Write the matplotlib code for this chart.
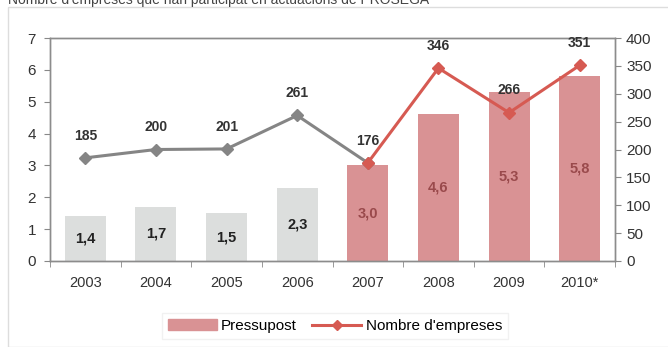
import numpy as np
import matplotlib.pyplot as plt
from matplotlib.patches import Rectangle
from matplotlib.lines import Line2D

plt.rcParams['font.family'] = ['Liberation Sans', 'DejaVu Sans']

years = ["2003", "2004", "2005", "2006", "2007", "2008", "2009", "2010*"]
budget = [1.4, 1.7, 1.5, 2.3, 3.0, 4.6, 5.3, 5.8]
budget_labels = ["1,4", "1,7", "1,5", "2,3", "3,0", "4,6", "5,3", "5,8"]
companies = [185, 200, 201, 261, 176, 346, 266, 351]

# first 4 years drawn in grey, rest in red
n_grey = 4

grey_bar = "#dcdedd"
red_bar = "#d99294"
grey_line = "#858585"
red_line = "#d65a52"
txt = "#333333"

fig = plt.figure(figsize=(6.68, 3.47), dpi=100)
ax = fig.add_axes([50/668, 1-261/347, 565/668, 223/347])
ax2 = ax.twinx()

x = np.arange(len(years))
colors = [grey_bar if i < n_grey else red_bar for i in x]
ax.bar(x, budget, width=0.58, color=colors, zorder=1)

for i, (v, lab) in enumerate(zip(budget, budget_labels)):
    c = "#222222" if i < n_grey else "#9a4a4c"
    ax.text(i, v / 2, lab, ha='center', va='center', fontsize=10.5,
            fontweight='bold', color=c, zorder=3)

ax.set_xlim(-0.5, 7.5)
ax.set_ylim(0, 7)
ax.set_yticks(range(0, 8))
ax.set_xticks(x)
ax.set_xticklabels(years)
ax.set_xticks(np.arange(-0.5, 8, 1), minor=True)
ax.tick_params(axis='x', which='major', length=0, pad=11, labelsize=10.5, labelcolor=txt)
ax.tick_params(axis='x', which='minor', length=4, color="#888888", direction='out')
ax.tick_params(axis='y', length=4, color="#888888", labelsize=11, labelcolor=txt, pad=6)

ax2.set_ylim(0, 400)
ax2.set_yticks(range(0, 401, 50))
ax2.tick_params(axis='y', length=4, color="#888888", labelsize=11, labelcolor=txt, pad=4)

ax2.plot(x[:n_grey + 1], companies[:n_grey + 1], color=grey_line, lw=2.2,
         marker='D', ms=6, zorder=4)
ax2.plot(x[n_grey:], companies[n_grey:], color=red_line, lw=2.2,
         marker='D', ms=6, zorder=5)
for i, v in enumerate(companies):
    ax2.annotate(str(v), (i, v), xytext=(0, 11), textcoords='offset points',
                 ha='center', va='bottom', fontsize=10, fontweight='bold', color=txt)

for a in (ax, ax2):
    for s in a.spines.values():
        s.set_color("#8c8c8c")
        s.set_linewidth(1.0)

# outer frame and cut-off heading
fig.patches.append(Rectangle((8/668, 0), 1, 1 - 7/347, transform=fig.transFigure,
                             fill=False, edgecolor="#dddddd", lw=1.0))
fig.text(8/668, 1.0, "Nombre d'empreses que han participat en actuacions de PROSEGA",
         fontsize=10, color="#444444", va='center', ha='left')

handles = [Rectangle((0, 0), 1, 1, color=red_bar),
           Line2D([0], [0], color=red_line, lw=2.2, marker='D', ms=5)]
fig.legend(handles, ["Pressupost", "Nombre d'empreses"], loc='center',
           bbox_to_anchor=(335/668, 1 - 326/347), ncol=2, frameon=True,
           fancybox=False, edgecolor="#eeeeee", fontsize=11,
           handlelength=3.2, columnspacing=1.0, handletextpad=0.3)

fig.savefig("out.png", dpi=100)
